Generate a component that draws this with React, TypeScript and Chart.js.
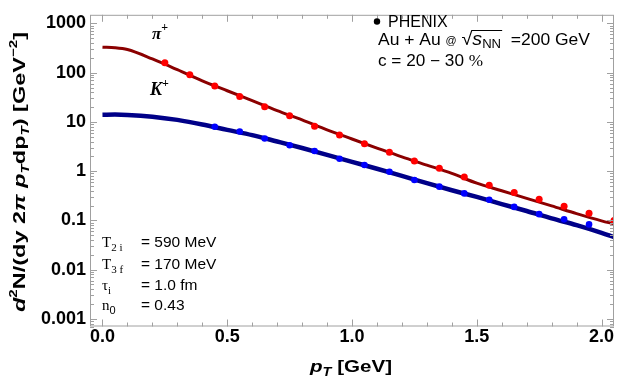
import React, { useEffect, useRef } from "react";
import { Chart, registerables } from "chart.js";

Chart.register(...registerables);

// ---- data ----
const piDataX = [0.25, 0.35, 0.45, 0.55, 0.65, 0.75, 0.85, 0.95, 1.05, 1.15, 1.25, 1.35, 1.45, 1.55, 1.65, 1.75, 1.85, 1.95, 2.05];
const piDataY = [160, 91, 53.7, 32.8, 20.3, 13.3, 8.13, 5.43, 3.62, 2.42, 1.61, 1.14, 0.76, 0.516, 0.37, 0.27, 0.195, 0.14, 0.1];

const kDataX = [0.45, 0.55, 0.65, 0.75, 0.85, 0.95, 1.05, 1.15, 1.25, 1.35, 1.45, 1.55, 1.65, 1.75, 1.85, 1.95];
const kDataY = [8.0, 6.4, 4.6, 3.35, 2.56, 1.79, 1.33, 0.97, 0.66, 0.485, 0.354, 0.263, 0.188, 0.134, 0.105, 0.083];

const curveX = [0.0, 0.05, 0.1, 0.2, 0.3, 0.4, 0.5, 0.6, 0.7, 0.8, 0.9, 1.0, 1.1, 1.2, 1.3, 1.4, 1.5, 1.6, 1.7, 1.8, 1.9, 2.0, 2.05];
const piCurveY = [330, 322, 295, 190, 115, 68, 43, 27, 17, 11, 6.9, 4.5, 2.95, 1.95, 1.33, 0.9, 0.57, 0.4, 0.28, 0.197, 0.137, 0.098, 0.085];
const kCurveY = [14.0, 14.1, 13.9, 12.8, 11.0, 8.9, 6.9, 5.4, 4.0, 2.95, 2.15, 1.55, 1.12, 0.8, 0.57, 0.41, 0.3, 0.215, 0.155, 0.11, 0.08, 0.056, 0.046];

const xTickValues = [0, 0.5, 1.0, 1.5, 2.0];
const xTickLabels = ["0.0", "0.5", "1.0", "1.5", "2.0"];
const yTickValues = [0.001, 0.01, 0.1, 1, 10, 100, 1000];
const yTickLabels = ["0.001", "0.01", "0.1", "1", "10", "100", "1000"];

const SANS = "'Liberation Sans', Arial, Helvetica, sans-serif";
const SERIF = "'Liberation Serif', 'Times New Roman', serif";

type Run = { t: string; f: string; dy?: number; dx?: number };

function drawRuns(ctx: CanvasRenderingContext2D, x: number, y: number, runs: Run[]) {
  for (const r of runs) {
    ctx.font = r.f;
    ctx.fillText(r.t, x, y + (r.dy || 0));
    x += ctx.measureText(r.t).width + (r.dx || 0);
  }
  return x;
}

function runsWidth(ctx: CanvasRenderingContext2D, runs: Run[]) {
  let w = 0;
  for (const r of runs) {
    ctx.font = r.f;
    w += ctx.measureText(r.t).width + (r.dx || 0);
  }
  return w;
}

// draw runs stretched horizontally to occupy a given width
function drawFit(ctx: CanvasRenderingContext2D, x: number, y: number, runs: Run[], target: number) {
  const w = runsWidth(ctx, runs);
  ctx.save();
  ctx.translate(x, y);
  ctx.scale(target / w, 1);
  drawRuns(ctx, 0, 0, runs);
  ctx.restore();
}

const framePlugin = {
  id: "framePlugin",
  afterDraw(chart: any) {
    const ctx: CanvasRenderingContext2D = chart.ctx;
    const { left, right, top, bottom } = chart.chartArea;
    const xs = chart.scales.x;
    const ys = chart.scales.y;
    ctx.save();
    // frame
    ctx.strokeStyle = "#a0a0a0";
    ctx.lineWidth = 1;
    ctx.strokeRect(left + 0.5, top + 0.5, right - left - 1, bottom - top - 1);
    ctx.beginPath();
    for (let i = 0; i <= 20; i++) {
      const v = i / 10;
      const px = Math.round(xs.getPixelForValue(v)) + 0.5;
      const len = i % 5 === 0 ? 7 : 4;
      ctx.moveTo(px, bottom);
      ctx.lineTo(px, bottom - len);
      ctx.moveTo(px, top);
      ctx.lineTo(px, top + len);
    }
    for (let e = -4; e <= 3; e++) {
      for (let m = 1; m <= 9; m++) {
        const v = m * Math.pow(10, e);
        if (v < ys.min || v > ys.max) continue;
        const py = Math.round(ys.getPixelForValue(v)) + 0.5;
        const len = m === 1 ? 7 : 4;
        ctx.moveTo(left, py);
        ctx.lineTo(left + len, py);
        ctx.moveTo(right, py);
        ctx.lineTo(right - len, py);
      }
    }
    ctx.stroke();

    ctx.fillStyle = "#000";
    ctx.textBaseline = "alphabetic";
    ctx.textAlign = "left";

    // x axis title
    const xt: Run[] = [
      { t: "p", f: `italic bold 17px ${SANS}` },
      { t: "T", f: `italic bold 12px ${SANS}`, dy: 4 },
      { t: " [GeV]", f: `bold 17px ${SANS}` },
    ];
    drawFit(ctx, 310, 372, xt, 82);

    // y axis title (rotated)
    const yt: Run[] = [
      { t: "d", f: `italic bold 17px ${SANS}` },
      { t: "2", f: `bold 11px ${SANS}`, dy: -8 },
      { t: "N/(dy 2", f: `bold 17px ${SANS}` },
      { t: "π", f: `italic bold 17px ${SANS}` },
      { t: " ", f: `bold 17px ${SANS}` },
      { t: "p", f: `italic bold 17px ${SANS}` },
      { t: "T", f: `italic bold 11px ${SANS}`, dy: 4 },
      { t: "dp", f: `bold 17px ${SANS}` },
      { t: "T", f: `italic bold 11px ${SANS}`, dy: 4 },
      { t: ") [GeV", f: `bold 17px ${SANS}` },
      { t: "−2", f: `bold 11px ${SANS}`, dy: -8 },
      { t: "]", f: `bold 17px ${SANS}` },
    ];
    ctx.save();
    ctx.translate(25, 172);
    ctx.rotate(-Math.PI / 2);
    drawFit(ctx, -140, 0, yt, 280);
    ctx.restore();

    // particle labels
    drawRuns(ctx, 152, 38.5, [
      { t: "π", f: `italic bold 17px ${SERIF}` },
      { t: "+", f: `bold 12px ${SERIF}`, dy: -8 },
    ]);
    drawRuns(ctx, 150, 95, [
      { t: "K", f: `italic bold 18px ${SERIF}` },
      { t: "+", f: `bold 12px ${SERIF}`, dy: -8, },
    ]);

    // legend
    ctx.beginPath();
    ctx.arc(377, 21.5, 3.2, 0, Math.PI * 2);
    ctx.fill();
    drawRuns(ctx, 388, 27, [{ t: "PHENIX", f: `16px ${SANS}` }]);

    // Au + Au line with sqrt overline, stretched to the reference width
    const pre: Run[] = [
      { t: "Au + Au ", f: `16px ${SANS}` },
      { t: "@", f: `10px ${SANS}`, dy: -1 },
      { t: " ", f: `16px ${SANS}` },
      { t: "√", f: `18px ${SANS}` },
    ];
    const rad: Run[] = [
      { t: "s", f: `italic 18px ${SANS}` },
      { t: "NN", f: `12px ${SANS}`, dy: 3 },
    ];
    const post: Run[] = [{ t: "  =200 GeV", f: `16px ${SANS}` }];
    const wPre = runsWidth(ctx, pre);
    const wRad = runsWidth(ctx, rad);
    const wAll = wPre + wRad + runsWidth(ctx, post);
    ctx.save();
    ctx.translate(378, 45);
    ctx.scale(212 / wAll, 1);
    let cx = drawRuns(ctx, 0, 0, pre);
    cx = drawRuns(ctx, cx, 0, rad);
    drawRuns(ctx, cx, 0, post);
    ctx.beginPath();
    ctx.lineWidth = 1;
    ctx.strokeStyle = "#000";
    ctx.moveTo(wPre - 1, -14.5);
    ctx.lineTo(wPre + wRad + 1, -14.5);
    ctx.stroke();
    ctx.restore();

    drawFit(ctx, 378, 66, [
      { t: "c = 20 − 30 ", f: `16px ${SANS}` },
      { t: "%", f: `16px ${SERIF}` },
    ], 105);

    // parameters
    const ys0 = [247.3, 268.5, 289.5, 310.3];
    drawRuns(ctx, 102, ys0[0], [
      { t: "T", f: `15px ${SERIF}` },
      { t: "2 i", f: `11px ${SERIF}`, dy: 4 },
    ]);
    drawRuns(ctx, 102, ys0[1], [
      { t: "T", f: `15px ${SERIF}` },
      { t: "3 f", f: `11px ${SERIF}`, dy: 4 },
    ]);
    drawRuns(ctx, 102, ys0[2], [
      { t: "τ", f: `15px ${SERIF}` },
      { t: "i", f: `11px ${SERIF}`, dy: 4 },
    ]);
    drawRuns(ctx, 102, ys0[3], [
      { t: "n", f: `15px ${SERIF}` },
      { t: "0", f: `11px ${SANS}`, dy: 4 },
    ]);
    const rhs = ["= 590 MeV", "= 170 MeV", "= 1.0 fm", "= 0.43"];
    rhs.forEach((s, i) => drawRuns(ctx, 141, ys0[i], [{ t: s, f: `15.5px ${SANS}` }]));

    ctx.restore();
  },
};

function toPts(xs: number[], ys: number[]) {
  return xs.map((x, i) => ({ x, y: ys[i] }));
}

export default function App() {
  const ref = useRef<HTMLCanvasElement | null>(null);
  useEffect(() => {
    if (!ref.current) return;
    const chart = new Chart(ref.current, {
      type: "scatter",
      data: {
        datasets: [
          {
            label: "PHENIX pi+",
            data: toPts(piDataX, piDataY),
            backgroundColor: "#ff0000",
            borderColor: "#ff0000",
            pointRadius: 3.5,
            pointBorderWidth: 0,
            showLine: false,
          },
          {
            label: "PHENIX K+",
            data: toPts(kDataX, kDataY),
            backgroundColor: "#0000ff",
            borderColor: "#0000ff",
            pointRadius: 3.3,
            pointBorderWidth: 0,
            showLine: false,
          },
          {
            label: "pi+ model",
            data: toPts(curveX, piCurveY),
            borderColor: "#8b0000",
            borderWidth: 3,
            pointRadius: 0,
            showLine: true,
            cubicInterpolationMode: "monotone",
          },
          {
            label: "K+ model",
            data: toPts(curveX, kCurveY),
            borderColor: "#000088",
            borderWidth: 4.5,
            pointRadius: 0,
            showLine: true,
            cubicInterpolationMode: "monotone",
          },
        ],
      } as any,
      options: {
        animation: false,
        responsive: false,
        layout: { padding: { left: 0, right: 9, top: 2, bottom: 0 } },
        plugins: { legend: { display: false }, tooltip: { enabled: false } },
        scales: {
          x: {
            type: "linear",
            min: -0.05,
            max: 2.05,
            grid: { display: false, drawTicks: false },
            border: { display: false },
            afterBuildTicks: (s: any) => {
              s.ticks = xTickValues.map((v) => ({ value: v }));
            },
            afterFit: (s: any) => {
              s.height = 53.5;
            },
            ticks: {
              padding: 0,
              color: "#000",
              font: { family: SANS, size: 18, weight: "bold" },
              callback: (_v: any, i: number) => xTickLabels[i],
              maxRotation: 0,
            },
          },
          y: {
            type: "logarithmic",
            min: 0.0007,
            max: 1500,
            grid: { display: false, drawTicks: false },
            border: { display: false },
            afterBuildTicks: (s: any) => {
              s.ticks = yTickValues.map((v) => ({ value: v }));
            },
            afterFit: (s: any) => {
              s.width = 90;
            },
            ticks: {
              padding: 4,
              color: "#000",
              font: { family: SANS, size: 18, weight: "bold" },
              callback: (_v: any, i: number) => yTickLabels[i],
            },
          },
        },
      } as any,
      plugins: [framePlugin],
    });
    return () => chart.destroy();
  }, []);
  return (
    <div style={{ position: "fixed", left: 0, top: 0, width: 623, height: 380, background: "#fff" }}>
      <canvas ref={ref} width={623} height={380} style={{ display: "block" }} />
    </div>
  );
}
